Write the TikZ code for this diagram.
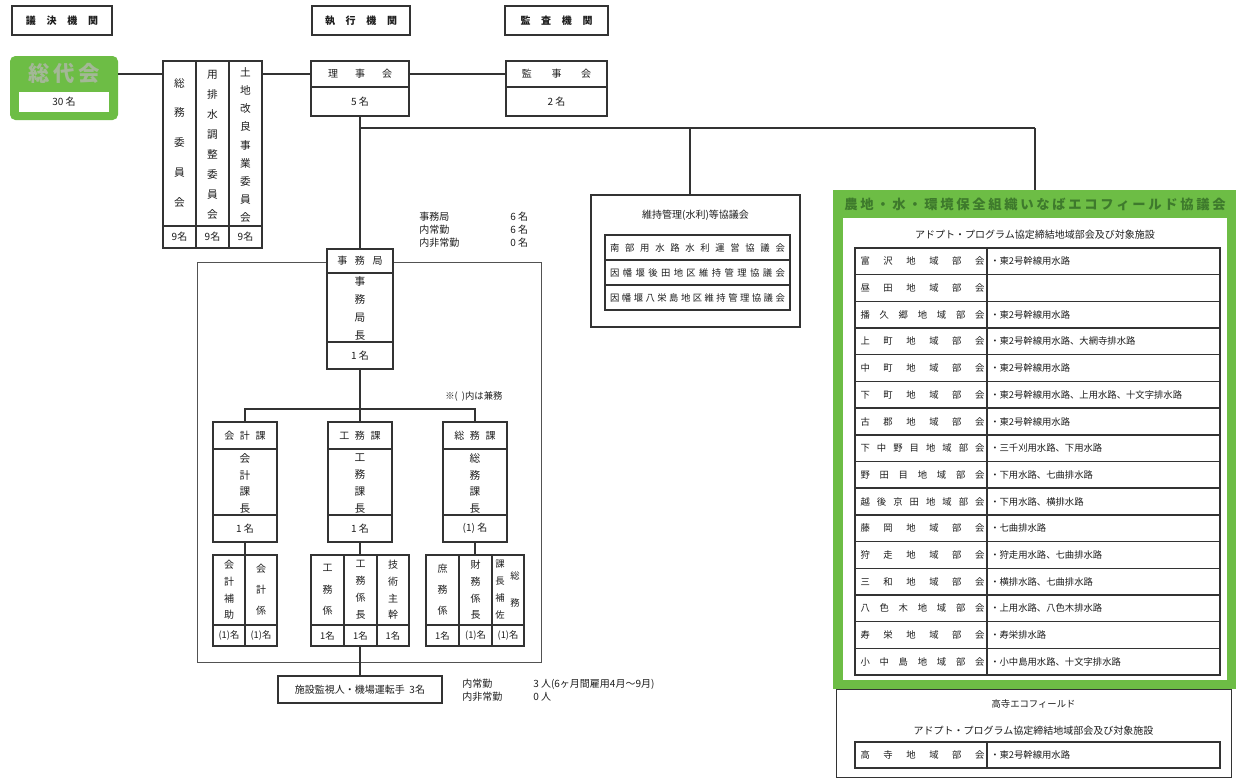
\documentclass[tikz,border=0pt]{standalone}
\usepackage{fontspec}
\setmainfont{Noto Sans CJK JP}
\definecolor{grn}{HTML}{6DBD45}
\definecolor{grnT}{HTML}{3E7A2C}
\definecolor{sodT}{HTML}{A3B896}
\definecolor{frm}{HTML}{333333}
\definecolor{txt}{HTML}{1E1E1E}
\makeatletter
\newcommand\fs[1]{\fontsize{#1}{#1}\selectfont}
\newcommand\hsp[2]{\edef\sp@list{#2}\makebox[#1][s]{\let\sp@f\relax\expandafter\@tfor\expandafter\sp@c\expandafter:\expandafter=\sp@list\do{\sp@f\sp@c\def\sp@f{\hfill}}}}
\newcommand\vsp[2]{\edef\sp@list{#2}\vbox to #1{\let\sp@f\relax\expandafter\@tfor\expandafter\sp@c\expandafter:\expandafter=\sp@list\do{\sp@f\hbox{\sp@c}\def\sp@f{\vfill}}}}
\makeatother
\newcommand\bxn[6][]{\node[bx,minimum width={(#5-#3)*0.75pt},minimum height={(#6-#4)*0.75pt},#1] (#2) at ({(#3+#5)/2},{(#4+#6)/2}) {};}
\begin{document}
\begin{tikzpicture}[x=0.75pt,y=-0.75pt,
 bx/.style={draw=frm,line width=1pt,fill=white,inner sep=0pt,outer sep=0pt},
 ln/.style={draw=frm,line width=1pt},
 tn/.style={inner sep=0pt,text=txt,font=\fs{7}},
 tm/.style={inner sep=0pt,text=txt,font=\fs{7.5}},
 tv/.style={inner sep=0pt,text=txt,font=\fs{8}}]
\useasboundingbox (0,0) rectangle (1238,783);
\fill[white] (0,0) rectangle (1238,783);

% ---- headers
\bxn[line width=1.3pt]{hA}{12}{6}{112}{35}
\node[tm,font=\fs{7.5}\bfseries] (hAt) at (hA) {\hsp{54pt}{議決機関}};
\bxn[line width=1.3pt]{hB}{312}{6}{410}{35}
\node[tm,font=\fs{7.5}\bfseries] (hBt) at (hB) {\hsp{54pt}{執行機関}};
\bxn[line width=1.3pt]{hC}{505}{6}{608}{35}
\node[tm,font=\fs{7.5}\bfseries] (hCt) at (hC) {\hsp{54pt}{監査機関}};

% ---- sodaikai
\node[fill=grn,rounded corners=4pt,minimum width=108*0.75pt,minimum height=64*0.75pt,inner sep=0pt] (sodai) at (64,88) {};
\node[inner sep=0pt,text=sodT,font=\fs{16}\bfseries] (sodait) at (64,73) {\hsp{54pt}{総代会}};
\node[fill=white,minimum width=90*0.75pt,minimum height=20*0.75pt,tm] (sodain) at (64,102) {30 名};

% ---- committees
\bxn{comm}{163}{61}{262}{248}
\draw[ln] (196,61) -- (196,248) (229,61) -- (229,248) (163,226) -- (262,226);
\node[tv] (c1) at (179.5,142.5) {\vsp{96pt}{総務委員会}};
\node[tv] (c2) at (212.5,144.5) {\vsp{111pt}{用排水調整委員会}};
\node[tv] (c3) at (245.5,145) {\vsp{115pt}{土地改良事業委員会}};
\node[tm] (c1n) at (179.5,237) {9名};
\node[tm] (c2n) at (212.5,237) {9名};
\node[tm] (c3n) at (245.5,237) {9名};

% ---- riji / kanji
\bxn{riji}{311}{61}{409}{116}
\draw[ln] (311,87) -- (409,87);
\node[tm] (rijit) at (360,74) {\hsp{48pt}{理事会}};
\node[tm] (rijin) at (360,101.5) {5 名};
\bxn{kanji}{506}{61}{607}{116}
\draw[ln] (506,87) -- (607,87);
\node[tm] (kanjit) at (556.5,74) {\hsp{52pt}{監事会}};
\node[tm] (kanjin) at (556.5,101.5) {2 名};

% ---- jimukyoku info
\node[tm,anchor=west] (i1) at (419,217) {事務局};
\node[tm,anchor=west] (i1n) at (510,217) {6 名};
\node[tm,anchor=west] (i2) at (419,230) {内常勤};
\node[tm,anchor=west] (i2n) at (510,230) {6 名};
\node[tm,anchor=west] (i3) at (419,243) {内非常勤};
\node[tm,anchor=west] (i3n) at (510,243) {0 名};

% ---- jimukyoku frame + box
\draw[draw=frm!85,line width=0.6pt] (197,262) rectangle (541,662);
\bxn{jimu}{327}{249}{393}{369}
\draw[ln] (327,273) -- (393,273) (327,342) -- (393,342);
\node[tm] (jimut) at (360,261) {\hsp{34pt}{事務局}};
\node[tv] (jimuv) at (360,308.5) {\vsp{47pt}{事務局長}};
\node[tm] (jimun) at (360,356) {1 名};

\node[tn,anchor=west] (kenmu) at (445,396) {※(\ \ )内は兼務};

% ---- departments
\bxn{kaikei}{213}{422}{277}{542}
\bxn{koumu}{328}{422}{392}{542}
\bxn{soumu}{443}{422}{507}{542}
\draw[ln] (213,449) -- (277,449) (213,515) -- (277,515);
\draw[ln] (328,449) -- (392,449) (328,515) -- (392,515);
\draw[ln] (443,449) -- (507,449) (443,515) -- (507,515);
\node[tm] (k1) at (245,435.5) {\hsp{31pt}{会計課}};
\node[tv] (k2) at (245,483.5) {\vsp{44pt}{会計課長}};
\node[tm] (k3) at (245,528.5) {1 名};
\node[tm] (w1) at (360,435.5) {\hsp{31pt}{工務課}};
\node[tv] (w2) at (360,483.5) {\vsp{44pt}{工務課長}};
\node[tm] (w3) at (360,528.5) {1 名};
\node[tm] (s1) at (475,435.5) {\hsp{31pt}{総務課}};
\node[tv] (s2) at (475,483.5) {\vsp{44pt}{総務課長}};
\node[tm] (s3) at (475,528.5) {(1) 名};

% ---- sub boxes
\bxn{ks}{213}{555}{277}{646}
\bxn{ku}{311}{555}{409}{646}
\bxn{ss}{426}{555}{524}{646}
\draw[ln] (245,555) -- (245,646) (213,625) -- (277,625);
\draw[ln] (344,555) -- (344,646) (377,555) -- (377,646) (311,625) -- (409,625);
\draw[ln] (459,555) -- (459,646) (492,555) -- (492,646) (426,625) -- (524,625);
\node[tm] (ks1) at (229,590) {\vsp{44pt}{会計補助}};
\node[tm] (ks2) at (261,590) {\vsp{38pt}{会計係}};
\node[tn] (ks1n) at (229,635.5) {(1)名};
\node[tn] (ks2n) at (261,635.5) {(1)名};
\node[tm] (ku1) at (327.5,590) {\vsp{38pt}{工務係}};
\node[tm] (ku2) at (360.5,590) {\vsp{44pt}{工務係長}};
\node[tm] (ku3) at (393,590) {\vsp{44pt}{技術主幹}};
\node[tn] (ku1n) at (327.5,635.5) {1名};
\node[tn] (ku2n) at (360.5,635.5) {1名};
\node[tn] (ku3n) at (393,635.5) {1名};
\node[tm] (ss1) at (442.5,590) {\vsp{38pt}{庶務係}};
\node[tm] (ss2) at (475.5,590) {\vsp{44pt}{財務係長}};
\node[tn] (ss3a) at (500,590) {\vsp{44pt}{課長補佐}};
\node[tn] (ss3b) at (515,589.5) {\vsp{26pt}{総務}};
\node[tn] (ss1n) at (442.5,635.5) {1名};
\node[tn] (ss2n) at (475.5,635.5) {(1)名};
\node[tn] (ss3n) at (508,635.5) {(1)名};

% ---- shisetsu
\bxn[line width=1.2pt]{shisetsu}{278}{676}{442}{703}
\node[tm] (shit) at (shisetsu) {施設監視人・機場運転手\ \ 3名};
\node[tm,anchor=west] (n1) at (462,684) {内常勤};
\node[tm,anchor=west] (n1v) at (533,684) {3 人(6ヶ月間雇用4月～9月)};
\node[tm,anchor=west] (n2) at (462,697) {内非常勤};
\node[tm,anchor=west] (n2v) at (533,697) {0 人};

% ---- iji kanri
\bxn[line width=1.2pt]{iji}{591}{195}{800}{327}
\node[tm] (ijit) at (695.5,215) {維持管理(水利)等協議会};
\draw[ln,line width=1.2pt] (605,235) rectangle (790,310) (605,260) -- (790,260) (605,285) -- (790,285);
\node[tn] (ij1) at (697.5,247.5) {\hsp{131pt}{南部用水路水利運営協議会}};
\node[tn] (ij2) at (697.5,272.5) {\hsp{131pt}{因幡堰後田地区維持管理協議会}};
\node[tn] (ij3) at (697.5,297.5) {\hsp{131pt}{因幡堰八栄島地区維持管理協議会}};

% ---- lower box (takadera)
\bxn[line width=0.7pt]{lower}{836}{689}{1231}{777}
\node[tn] (lt1) at (1033.5,704) {高寺エコフィールド};
\node[tm] (lt2) at (1033.5,731) {アドプト・プログラム協定締結地域部会及び対象施設};
\draw[ln,line width=1.2pt] (855,742) rectangle (1220,768) (987,742) -- (987,768);
\node[tn] (lt3) at (922.5,755) {\hsp{93pt}{高寺地域部会}};
\node[tn,anchor=west] (lt4) at (990,755) {・東2号幹線用水路};

% ---- green council
\node[fill=grn,minimum width=403*0.75pt,minimum height=499*0.75pt,inner sep=0pt] (green) at (1034.5,439.5) {};
\fill[white] (843,218) rectangle (1227,680);
\node[inner sep=0pt,text=grnT,font=\fs{10}\bfseries] (gtitle) at (1035,204) {\hsp{286pt}{農地・水・環境保全組織いなばエコフィールド協議会}};
\node[tm] (gsub) at (1035,235) {アドプト・プログラム協定締結地域部会及び対象施設};
\draw[ln,line width=1.2pt] (855,248) rectangle (1220,675) (987,248) -- (987,675);
\foreach \k in {1,...,15} {\draw[ln,line width=1.1pt] (855,{248+\k*26.6875}) -- (1220,{248+\k*26.6875});}
\foreach \i/\a/\b in {0/富沢地域部会/・東2号幹線用水路,
 1/昼田地域部会/{},
 2/播久郷地域部会/・東2号幹線用水路,
 3/上町地域部会/・東2号幹線用水路、大網寺排水路,
 4/中町地域部会/・東2号幹線用水路,
 5/下町地域部会/・東2号幹線用水路、上用水路、十文字排水路,
 6/古郡地域部会/・東2号幹線用水路,
 7/下中野目地域部会/・三千刈用水路、下用水路,
 8/野田目地域部会/・下用水路、七曲排水路,
 9/越後京田地域部会/・下用水路、横排水路,
 10/藤岡地域部会/・七曲排水路,
 11/狩走地域部会/・狩走用水路、七曲排水路,
 12/三和地域部会/・横排水路、七曲排水路,
 13/八色木地域部会/・上用水路、八色木排水路,
 14/寿栄地域部会/・寿栄排水路,
 15/小中島地域部会/・小中島用水路、十文字排水路} {
 \pgfmathsetmacro\yy{248+(\i+0.5)*26.6875}
 \node[tn] (gl\i) at (922.5,\yy) {\hsp{93pt}{\a}};
 \node[tn,anchor=west] (gr\i) at (990,\yy) {\b};
}

% ---- connectors
\coordinate (L74) at (0,74);
\draw[ln] (sodai.east |- L74) -- (comm.west |- L74);
\draw[ln] (comm.east |- L74) -- (riji.west |- L74);
\draw[ln] (riji.east |- L74) -- (kanji.west |- L74);
\coordinate (b0) at (360,128);
\coordinate (b1) at (690,128);
\coordinate (b2) at (1035,128);
\draw[ln] (b0) -- (b2);
\draw[ln] (b1) -- (iji.north -| b1);
\draw[ln] (b2) -- (green.north -| b2);
\draw[ln] (riji.south) -- (jimu.north);
\draw[ln] (jimu.south) -- (koumu.north);
\draw[ln] (kaikei.north) -- ++(0,-13) -| (soumu.north);
\draw[ln] (kaikei.south) -- (ks.north);
\draw[ln] (koumu.south) -- (ku.north);
\draw[ln] (soumu.south) -- (ss.north);
\draw[ln] (ku.south) -- (shisetsu.north);
\end{tikzpicture}
\end{document}
